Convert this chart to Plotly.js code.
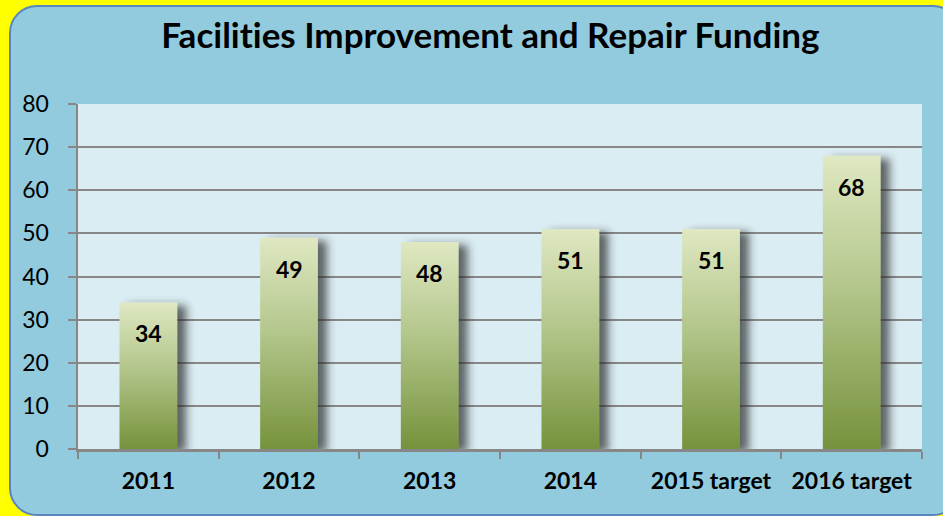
<!DOCTYPE html>
<html><head><meta charset="utf-8">
<script src="https://cdn.plot.ly/plotly-3.0.1.min.js"></script>
<style>
html,body{margin:0;padding:0;width:943px;height:516px;overflow:hidden;background:#ffff00;}
#box{position:absolute;left:9px;top:5px;width:948px;height:507px;background:#92CBDD;border:2px solid #5A86C0;border-radius:28px;}
#chart{position:absolute;left:0;top:0;width:943px;height:516px;}
svg text{font-variant-ligatures:none !important;font-feature-settings:"liga" 0,"clig" 0,"dlig" 0 !important;}
</style></head>
<body><div id="box"></div><div id="chart"></div>
<script>
const categories = ['2011','2012','2013','2014','2015 target','2016 target'];
const funding = [34, 49, 48, 51, 51, 68];
const yTicks = [0,10,20,30,40,50,60,70,80];

const font = 'Lato, Carlito, "Open Sans", sans-serif';
const trace = {
  type:'bar', x:categories, y:funding, width:0.41,
  marker:{color:'#A9BC7A', line:{width:0}},
  hoverinfo:'none'
};
const annotations = funding.map((v,i)=>({
  x:i, y:v, xref:'x', yref:'y', text:'<b>'+v+'</b>',
  showarrow:false, yshift:-31, font:{family:font,size:23,color:'#000'}
}));
const layout = {
  width:943, height:516,
  paper_bgcolor:'rgba(0,0,0,0)', plot_bgcolor:'#DAEDF3',
  margin:{l:78,r:21,t:104,b:67},
  title:{text:'<b>Facilities Improvement and Repair Funding</b>', x:0.52, xanchor:'center', y:0.93, yanchor:'middle',
         font:{family:font,size:35,color:'#000'}},
  showlegend:false,
  xaxis:{type:'category', range:[-0.5,5.5], tickson:'boundaries', ticks:'outside', ticklen:7, tickcolor:'#878787', tickwidth:2,
         showline:true, linecolor:'#878787', linewidth:2.5, showgrid:false, tickangle:0,
         tickfont:{family:font,size:23,color:'#000',weight:'bold'}, ticklabelstandoff:10},
  yaxis:{range:[0,80], tickvals:yTicks, ticks:'outside', ticklen:8, tickcolor:'#878787', tickwidth:2,
         showline:true, linecolor:'#878787', linewidth:2.5, gridcolor:'#878787', gridwidth:2,
         zeroline:false, tickfont:{family:font,size:23,color:'#000'}, ticklabelstandoff:14},
  annotations:annotations
};
Plotly.newPlot('chart',[trace],layout,{displayModeBar:false,staticPlot:true}).then(gd=>{
  const svg = gd.querySelector('svg.main-svg');
  const ns='http://www.w3.org/2000/svg';
  let defs = svg.querySelector('defs');
  if(!defs){defs=document.createElementNS(ns,'defs');svg.insertBefore(defs,svg.firstChild);}
  defs.insertAdjacentHTML('beforeend',
   '<linearGradient id="barGrad" x1="0" y1="0" x2="0" y2="1">'+
   '<stop offset="0" stop-color="#DFE8C2"/><stop offset="0.45" stop-color="#B3C68B"/><stop offset="1" stop-color="#76923C"/></linearGradient>'+
   '<filter id="barShadow" x="-30%" y="-10%" width="180%" height="120%">'+
   '<feDropShadow dx="9" dy="3" stdDeviation="4.5" flood-color="#2a2a2a" flood-opacity="0.7"/></filter>');
  gd.querySelectorAll('.bars .point path').forEach(p=>{
    p.style.fill='url(#barGrad)';
    p.setAttribute('filter','url(#barShadow)');
  });
  gd.querySelectorAll('text').forEach(t=>{
    t.style.fontVariantLigatures='none';
    t.style.fontFeatureSettings='"liga" 0, "clig" 0';
  });
});
</script></body></html>
